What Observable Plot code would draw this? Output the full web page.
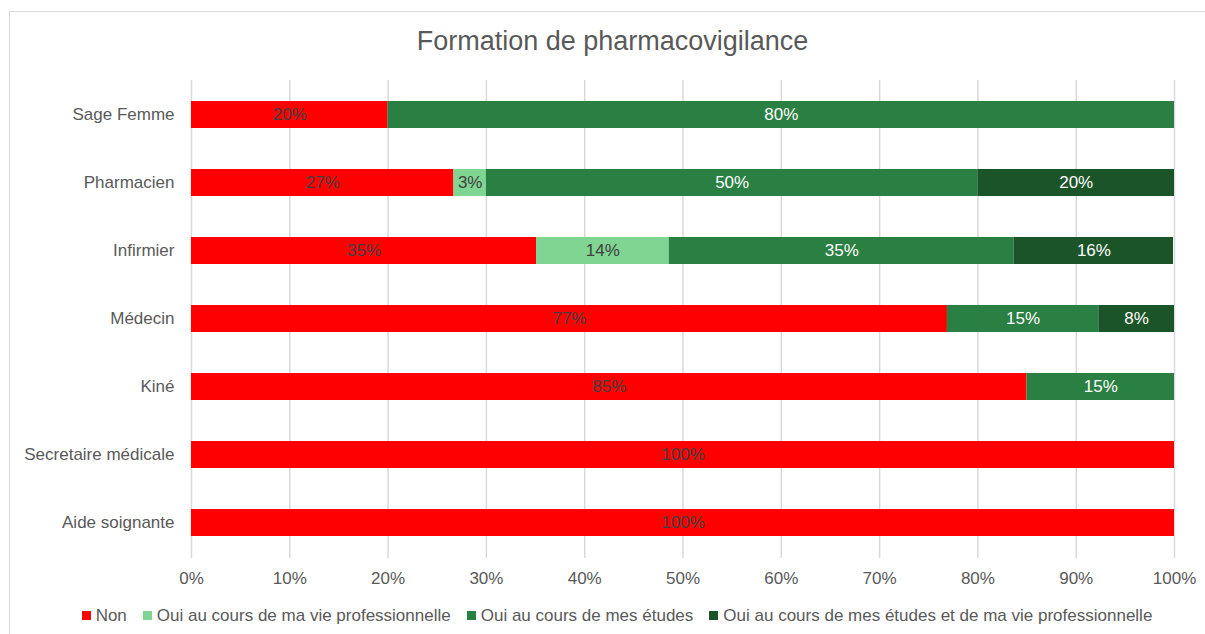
<!DOCTYPE html>
<html>
<head>
<meta charset="utf-8">
<script src="https://cdn.jsdelivr.net/npm/d3@7"></script>
<script src="https://cdn.jsdelivr.net/npm/@observablehq/plot@0.6"></script>
<style>
  html, body { margin: 0; padding: 0; background: #fff; }
  body { width: 1205px; height: 634px; position: relative; overflow: hidden; font-family: "Liberation Sans", Arial, sans-serif; }
  #frame { position: absolute; left: 9px; top: 11px; width: 1230px; height: 650px; border: 1px solid #d9d9d9; box-sizing: border-box; }
  #title { position: absolute; left: 0; width: 1225px; top: 28px; text-align: center; font-size: 27px; color: #595959; line-height: 1; }
  #chart { position: absolute; left: 0; top: 0; }
  #legend { position: absolute; left: 9px; width: 1216px; top: 607px; display: flex; justify-content: center; align-items: center; font-size: 17px; color: #595959; line-height: 1; }
  .item { display: flex; align-items: center; margin: 0 8px; }
  .sw { width: 9px; height: 9px; margin-right: 5px; }
</style>
</head>
<body>
<div id="frame"></div>
<div id="title">Formation de pharmacovigilance</div>
<div id="chart"></div>
<div id="legend"></div>
<script>
const categories = ["Sage Femme", "Pharmacien", "Infirmier", "Médecin", "Kiné", "Secretaire médicale", "Aide soignante"];
const seriesNames = ["Non", "Oui au cours de ma vie professionnelle", "Oui au cours de mes études", "Oui au cours de mes études et de ma vie professionnelle"];
const nonValues = [0.20, 0.267, 0.351, 0.769, 0.85, 1.00, 1.00];
const vieProValues = [0, 0.033, 0.135, 0, 0, 0, 0];
const etudesValues = [0.80, 0.50, 0.351, 0.154, 0.15, 0, 0];
const etudesVieProValues = [0, 0.20, 0.162, 0.077, 0, 0, 0];
const seriesColors = ["#FF0000", "#7FD591", "#2A7F42", "#1C5429"];
const labelColors = ["#404040", "#404040", "#ffffff", "#ffffff"];
const xTicks = [0, 0.1, 0.2, 0.3, 0.4, 0.5, 0.6, 0.7, 0.8, 0.9, 1.0];

const allValues = [nonValues, vieProValues, etudesValues, etudesVieProValues];
const data = [];
seriesNames.forEach((s, si) => {
  categories.forEach((c, ci) => {
    data.push({cat: c, series: s, value: allValues[si][ci], si});
  });
});
const nonzero = data.filter(d => d.value > 0);

const chart = Plot.plot({
  width: 1205,
  height: 600,
  marginLeft: 191,
  marginRight: 31,
  marginTop: 80,
  marginBottom: 42,
  style: {fontFamily: '"Liberation Sans", Arial, sans-serif', fontSize: "17px", color: "#595959", background: "transparent"},
  x: {domain: [0, 1], ticks: xTicks, tickFormat: d => Math.round(d * 100) + "%", tickSize: 0, tickPadding: 13, label: null},
  y: {domain: categories, paddingInner: 0.6, paddingOuter: 0.3, tickSize: 0, tickPadding: 17, label: null},
  color: {domain: seriesNames, range: seriesColors},
  marks: [
    Plot.gridX(xTicks, {stroke: "#d9d9d9", strokeOpacity: 1, strokeWidth: 1.5}),
    Plot.barX(nonzero, Plot.stackX({x: "value", y: "cat", fill: "series", z: "series", order: seriesNames})),
    Plot.text(nonzero, Plot.stackX({
      x: "value", y: "cat", z: "series", order: seriesNames,
      text: d => Math.round(d.value * 100) + "%",
      fill: d => labelColors[d.si],
      fontSize: 17
    }))
  ]
});
document.getElementById("chart").appendChild(chart);

const legend = document.getElementById("legend");
seriesNames.forEach((s, i) => {
  const item = document.createElement("div");
  item.className = "item";
  const sw = document.createElement("div");
  sw.className = "sw";
  sw.style.background = seriesColors[i];
  const t = document.createElement("span");
  t.textContent = s;
  item.appendChild(sw);
  item.appendChild(t);
  legend.appendChild(item);
});
</script>
</body>
</html>
